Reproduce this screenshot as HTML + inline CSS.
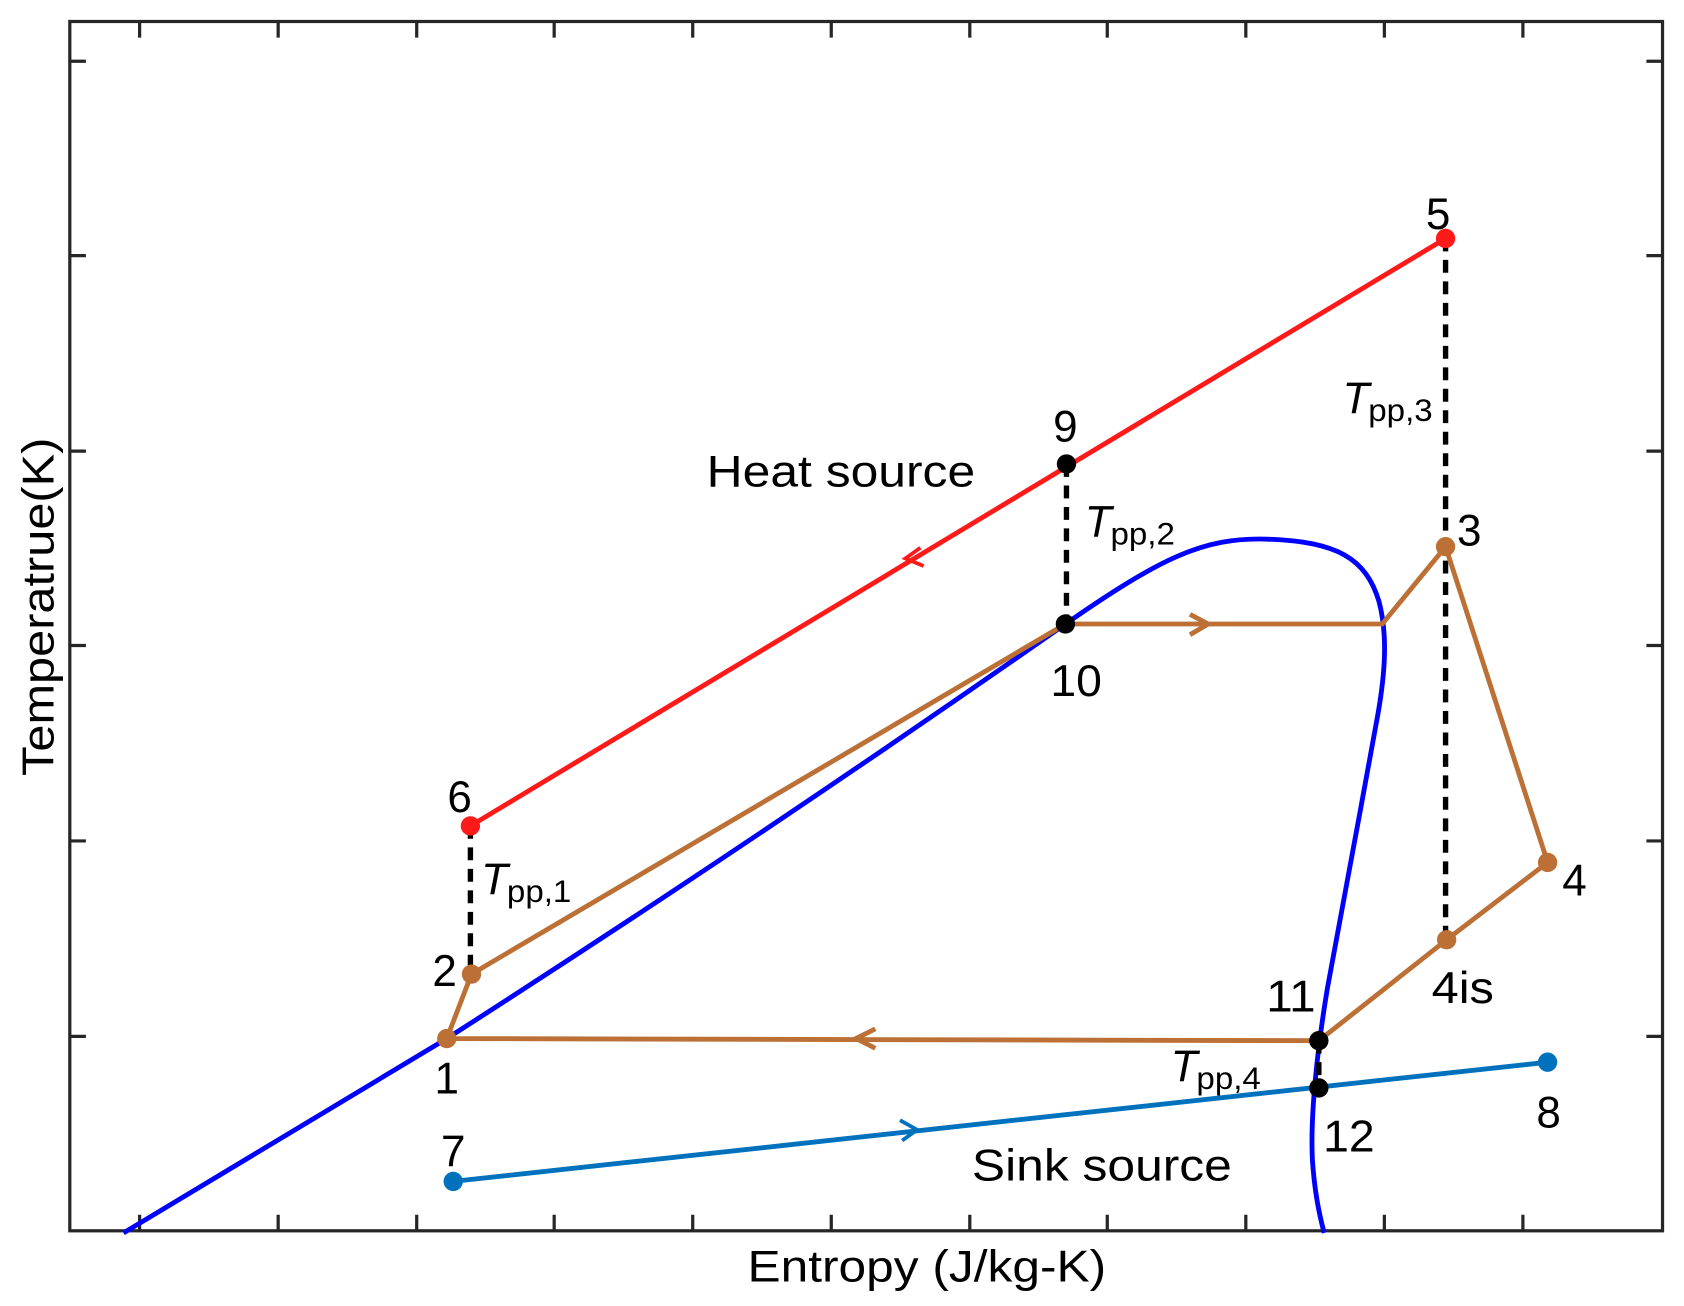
<!DOCTYPE html>
<html><head><meta charset="utf-8"><style>
html,body{margin:0;padding:0;background:#fff;}
svg{display:block;}
text{font-family:"Liberation Sans",Arial,sans-serif;fill:#000;}
</style></head><body>
<svg width="1684" height="1306" viewBox="0 0 1568 1216" xmlns="http://www.w3.org/2000/svg">
<rect width="1568" height="1216" fill="#fff"/>
<g stroke="#262626" stroke-width="3" fill="none">
<rect x="65" y="20" width="1483" height="1126"/>
<path d="M130 1146v-15M259 1146v-15M388 1146v-15M516 1146v-15M645 1146v-15M774 1146v-15M903 1146v-15M1031 1146v-15M1160 1146v-15M1289 1146v-15M1418 1146v-15
M130 20v15M259 20v15M388 20v15M516 20v15M645 20v15M774 20v15M903 20v15M1031 20v15M1160 20v15M1289 20v15M1418 20v15
M65 57h15M65 238h15M65 420h15M65 601h15M65 783h15M65 965h15
M1548 57h-15M1548 238h-15M1548 420h-15M1548 601h-15M1548 783h-15M1548 965h-15"/>
</g>
<path d="M115 1148 L416 967 Q700 785 992 581 C1080 520 1120 500 1180 502 C1245 504 1272 520 1284 560 C1292 590 1290 625 1283 665 C1268 750 1250 840 1236 920 C1226 980 1220 1040 1222 1080 C1224 1110 1228 1130 1233 1148" fill="none" stroke="#0000ff" stroke-width="4.5"/>
<g stroke="#000" stroke-width="5" stroke-dasharray="12,8" fill="none">
<path d="M438 769V907"/>
<path d="M993 432V581"/>
<path d="M1346 222V875"/>
<path d="M1228 969V1013"/>
</g>
<path d="M438 769 L1346 222" stroke="#ff1a1a" stroke-width="4.5" fill="none"/>
<path d="M857 510 L843 520 L860 527" stroke="#ff1a1a" stroke-width="3.5" fill="none"/>
<path d="M422 1100 L1441 989" stroke="#0072bd" stroke-width="4.5" fill="none"/>
<path d="M838 1043 L854 1052 L840 1062" stroke="#0072bd" stroke-width="3.5" fill="none"/>
<path d="M416 967 L439 907 L992 581 L1287 581 L1346 509 L1441 803 L1347 875 L1228 969 L416 967" stroke="#bc7035" stroke-width="4.5" fill="none"/>
<path d="M1108 572 L1125 581 L1108 591" stroke="#bc7035" stroke-width="4.5" fill="none"/>
<path d="M815 958 L797 967 L815 976" stroke="#bc7035" stroke-width="4.5" fill="none"/>
<g fill="#ff1a1a"><circle cx="1346" cy="222" r="9"/><circle cx="438" cy="769" r="9"/></g>
<g fill="#000"><circle cx="993" cy="432" r="9"/><circle cx="992" cy="581" r="9"/><circle cx="1228" cy="969" r="9"/><circle cx="1228" cy="1013" r="9"/></g>
<g fill="#bc7035"><circle cx="1346" cy="509" r="9"/><circle cx="1441" cy="803" r="9"/><circle cx="1347" cy="875" r="9"/><circle cx="416" cy="967" r="9"/><circle cx="439" cy="907" r="9"/></g>
<g fill="#0072bd"><circle cx="422" cy="1100" r="9"/><circle cx="1441" cy="989" r="9"/></g>
<g font-size="41" text-anchor="middle">
<text x="1339" y="213">5</text>
<text x="992" y="411">9</text>
<text x="428" y="756">6</text>
<text x="414" y="918">2</text>
<text x="416" y="1018">1</text>
<text x="1002" y="648" textLength="48" lengthAdjust="spacingAndGlyphs">10</text>
<text x="1368" y="508">3</text>
<text x="1466" y="834">4</text>
<text x="1362" y="934" textLength="58" lengthAdjust="spacingAndGlyphs">4is</text>
<text x="1202" y="942" textLength="46" lengthAdjust="spacingAndGlyphs">11</text>
<text x="1256" y="1072" textLength="48" lengthAdjust="spacingAndGlyphs">12</text>
<text x="422" y="1086">7</text>
<text x="1442" y="1050">8</text>
</g>
<g font-size="41">
<text x="658" y="453" textLength="250" lengthAdjust="spacingAndGlyphs">Heat source</text>
<text x="905" y="1099" textLength="242" lengthAdjust="spacingAndGlyphs">Sink source</text>
</g>
<g>
<text x="1250" y="385" font-size="41" font-style="italic">T</text><text x="1274" y="392" font-size="29" textLength="60" lengthAdjust="spacingAndGlyphs">pp,3</text>
<text x="1010" y="500" font-size="41" font-style="italic">T</text><text x="1034" y="507" font-size="29" textLength="60" lengthAdjust="spacingAndGlyphs">pp,2</text>
<text x="448" y="833" font-size="41" font-style="italic">T</text><text x="472" y="840" font-size="29" textLength="60" lengthAdjust="spacingAndGlyphs">pp,1</text>
<text x="1090" y="1007" font-size="41" font-style="italic">T</text><text x="1114" y="1014" font-size="29" textLength="60" lengthAdjust="spacingAndGlyphs">pp,4</text>
</g>
<text x="696" y="1193" font-size="41" fill="#262626" textLength="334" lengthAdjust="spacingAndGlyphs">Entropy (J/kg-K)</text>
<text transform="translate(50,565) rotate(-90)" font-size="41" text-anchor="middle" fill="#262626" textLength="315" lengthAdjust="spacingAndGlyphs">Temperatrue(K)</text>
</svg>
</body></html>
